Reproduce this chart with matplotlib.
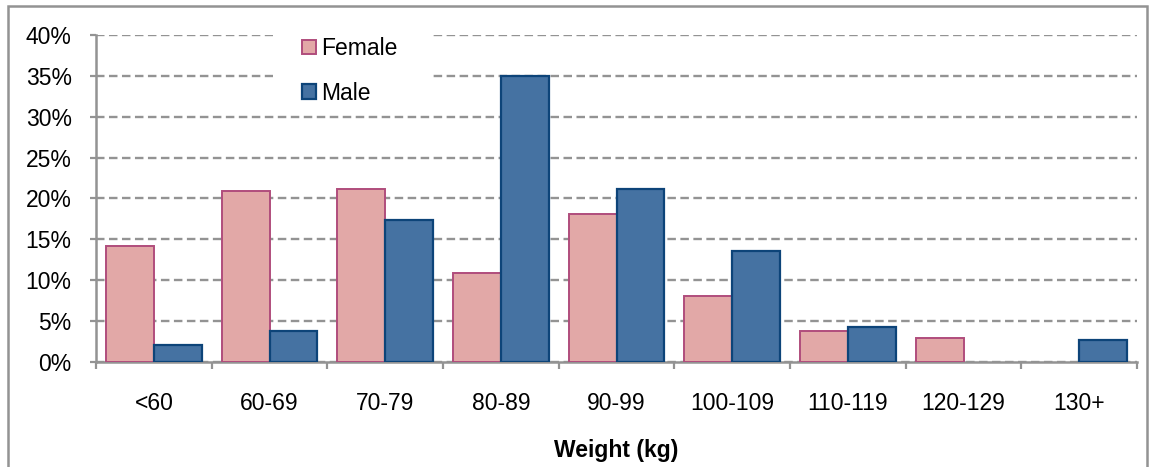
import numpy as np
import matplotlib
matplotlib.use('Agg')
import matplotlib.pyplot as plt
from matplotlib.patches import Rectangle
from matplotlib.ticker import FixedLocator, PercentFormatter

# weight classes and share of each sex (%)
categories = ['<60', '60-69', '70-79', '80-89', '90-99', '100-109', '110-119', '120-129', '130+']
female = [14.2, 20.9, 21.2, 10.8, 18.1, 8.0, 3.7, 2.9, 0.0]
male = [2.1, 3.8, 17.3, 35.0, 21.2, 13.6, 4.3, 0.0, 2.6]

plt.rcParams['font.family'] = ['Liberation Sans', 'DejaVu Sans']
gris = '#939393'
fs = 16.5

fig = plt.figure(figsize=(11.49, 4.67), dpi=100)
ax = fig.add_axes([96/1149, 1 - 361.7/467, (1137 - 96)/1149, (361.7 - 35)/467])

x = np.arange(len(categories)) + 0.5
w = 0.4135
# no outline for empty classes
ax.bar(x - w/2, female, width=w, color='#E2A8A7', edgecolor='#B04D7C',
       linewidth=[1.4 if v > 0 else 0 for v in female], label='Female', zorder=3)
ax.bar(x + w/2, male, width=w, color='#4572A2', edgecolor='#0D4479',
       linewidth=[1.6 if v > 0 else 0 for v in male], label='Male', zorder=3)

ax.set_xlim(0, len(categories))
ax.set_ylim(0, 40)
ax.yaxis.set_major_locator(FixedLocator(np.arange(0, 41, 5)))
ax.yaxis.set_major_formatter(PercentFormatter(decimals=0))
ax.grid(axis='y', color=gris, linestyle=(0, (3.6, 1.9)), linewidth=1.7, zorder=0)

# ticks at class boundaries, labels at class centres
ax.set_xticks(np.arange(len(categories) + 1))
ax.set_xticklabels([])
ax.set_xticks(x, minor=True)
ax.set_xticklabels(categories, minor=True)
ax.tick_params(axis='x', which='major', direction='out', length=5, width=1.6, color=gris)
ax.tick_params(axis='x', which='minor', length=0, pad=22, labelsize=fs)
ax.tick_params(axis='y', direction='out', length=4.5, width=1.6, color=gris,
               labelsize=fs, pad=13)

for s in ['top', 'right']:
    ax.spines[s].set_visible(False)
for s in ['left', 'bottom']:
    ax.spines[s].set_color(gris)
    ax.spines[s].set_linewidth(1.8)

ax.set_xlabel('Weight (kg)', fontsize=fs, fontweight='bold', labelpad=17)

# white patch behind the legend hides the grid lines there
ax.add_patch(Rectangle((273/1149, 1 - 105/467), (430 - 273)/1149, (105 - 27)/467,
                       transform=fig.transFigure, facecolor='white',
                       edgecolor='none', zorder=2))

leg = ax.legend(loc='upper left', bbox_to_anchor=(302/1149, 1 - 37/467),
                bbox_transform=fig.transFigure, frameon=False, fontsize=fs,
                handlelength=0.6, handleheight=0.6, handletextpad=0.22,
                labelspacing=0.95, borderpad=0, borderaxespad=0)
leg.set_zorder(5)

# outline of the chart area
fig.patches.append(Rectangle((8/1149, -0.05), (1147 - 8)/1149, 1.05 - 6/467,
                             transform=fig.transFigure, fill=False,
                             edgecolor=gris, linewidth=1.8))

plt.savefig('out.png', dpi=100)
plt.close()
